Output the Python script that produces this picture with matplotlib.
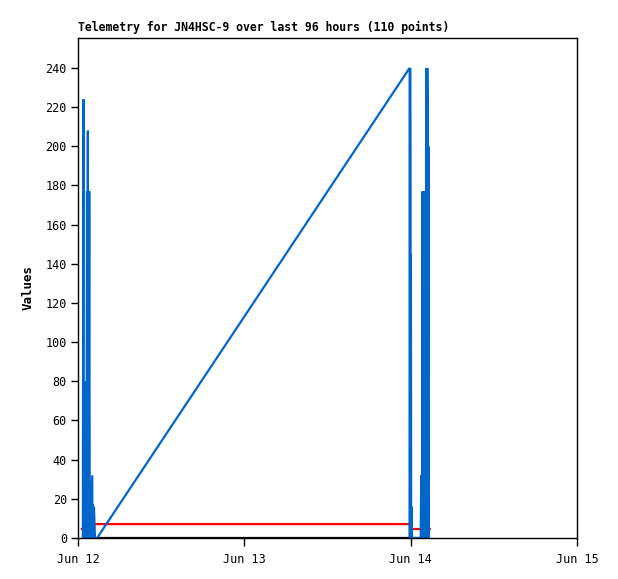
import numpy as np
import matplotlib
matplotlib.use('Agg')
import matplotlib.pyplot as plt

# hours since Jun 12 00:00
blue_t = [0.70, 0.78, 0.82, 0.88, 0.92, 0.98, 1.02, 1.08, 1.12, 1.22, 1.30, 1.38,
          1.42, 1.48, 1.54, 1.62, 1.70, 2.05, 2.10, 2.15, 2.25, 2.30, 2.45, 2.75,
          47.85, 47.88, 47.92, 47.96, 48.00, 48.03, 48.08, 48.12, 48.20,
          49.45, 49.52, 49.58, 49.65, 49.72, 49.80, 49.88, 49.96, 50.04, 50.12,
          50.28, 50.34, 50.40, 50.46, 50.50, 50.56, 50.60]
blue_v = [0, 224, 0, 16, 80, 0, 16, 0, 16, 0, 177, 0,
          208, 0, 16, 177, 0, 32, 0, 17, 0, 16, 0, 0,
          240, 0, 240, 192, 0, 145, 0, 16, 0,
          0, 32, 0, 17, 177, 0, 177, 16, 177, 0,
          240, 0, 240, 208, 0, 200, 0]

red_t = [0.55, 1.50, 1.55, 48.05, 48.10, 50.75]
red_v = [4.6, 4.6, 7.1, 7.1, 4.6, 4.6]

black_t = [0.55, 50.75]
black_v = [0, 0]

xticks = [0, 24, 48, 72]
xlabels = ['Jun 12', 'Jun 13', 'Jun 14', 'Jun 15']
yticks = list(range(0, 241, 20))

plt.rcParams['font.family'] = 'DejaVu Sans Mono'

fig = plt.figure(figsize=(6.18, 5.79), dpi=100)
ax = fig.add_axes([78/618, 41/579, 499/618, 500/579])

ax.plot(black_t, black_v, color='black', lw=1.6, solid_capstyle='butt')
ax.plot(red_t, red_v, color='#ff0000', lw=1.6, solid_joinstyle='miter')
ax.plot(blue_t, blue_v, color='#0066cc', lw=1.6, solid_joinstyle='miter')

ax.set_xlim(0, 72)
ax.set_ylim(0, 255.3)
ax.set_xticks(xticks)
ax.set_xticklabels(xlabels)
ax.set_yticks(yticks)
ax.tick_params(direction='out', length=5, width=1, labelsize=8.5, pad=3)
ax.tick_params(axis='x', length=6, pad=5)
for s in ax.spines.values():
    s.set_linewidth(1)

ax.set_ylabel('Values', fontsize=9, fontweight='bold', labelpad=8)
ax.set_title('Telemetry for JN4HSC-9 over last 96 hours (110 points)',
             fontsize=8.3, fontweight='bold', loc='left', pad=5)

fig.savefig('out.png', dpi=100)
